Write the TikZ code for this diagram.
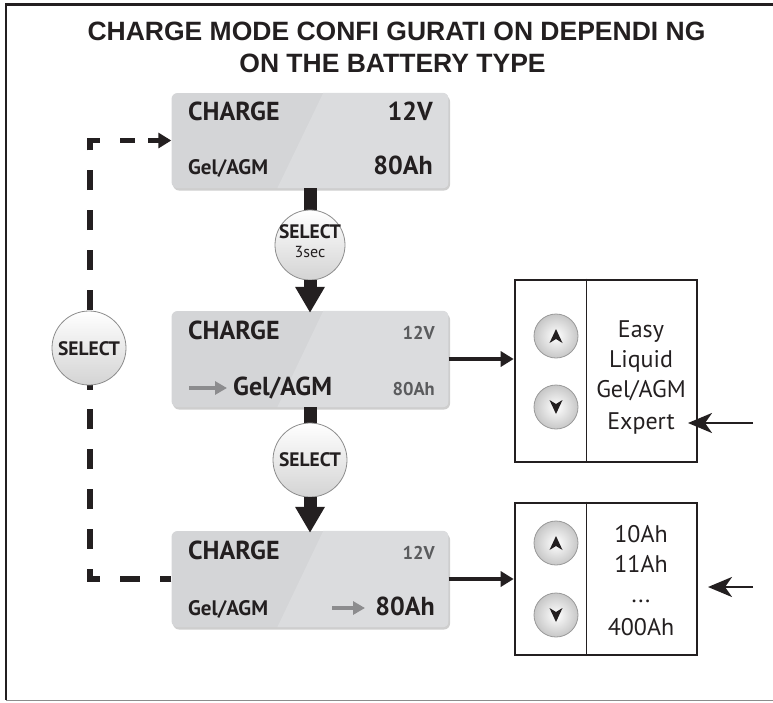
\documentclass[tikz,border=0pt]{standalone}
\usepackage{fontspec}
\setmainfont{PT Sans}
\newfontfamily\titlefont{Liberation Sans}
\usetikzlibrary{arrows.meta,shadows,calc}
\definecolor{ink}{HTML}{231F20}
\definecolor{lcd}{HTML}{D4D5D7}
\definecolor{lcdhi}{HTML}{DBDCDE}
\definecolor{dimtxt}{HTML}{5A5B5D}
\definecolor{arrgray}{HTML}{8C8C8E}
\newcommand\fs[1]{\fontsize{#1}{#1}\selectfont}
\newcommand\lcdshine[1]{%
  \begin{scope}
    \clip[rounded corners=6pt] (#1.north west) rectangle (#1.south east);
    \fill[lcdhi] ($(#1.north west)+(152,0)$) -- (#1.north east) -- (#1.south east) -- ($(#1.south west)+(106,0)$) -- cycle;
  \end{scope}}
\begin{document}
\begin{tikzpicture}[x=1pt,y=-1pt,
  lcdbox/.style={fill=lcd, rounded corners=6pt, minimum width=277pt, minimum height=95pt, inner sep=0pt,
     drop shadow={shadow xshift=1.5pt, shadow yshift=-2.5pt, opacity=0.35, fill=black!55}},
  txt/.style={inner sep=0pt, text=ink},
  bigtxt/.style={txt, font=\fs{26}\bfseries},
  midtxt/.style={txt, font=\fs{21}\bfseries},
  dimsm/.style={inner sep=0pt, text=dimtxt, font=\fs{18.5}\bfseries},
  titletxt/.style={inner sep=0pt, text=ink, font=\titlefont\fs{26.5}\bfseries},
  listtxt/.style={inner sep=0pt, text=ink, font=\fs{24}, anchor=base},
  selbtn/.style={circle, draw=black!45, line width=0.8pt, top color=white, bottom color=black!17, inner sep=0pt},
  arrbtn/.style={circle, draw=black!40, line width=0.8pt, inner color=white, outer color=black!22, minimum size=44pt, inner sep=0pt},
  seltxt/.style={inner sep=0pt, text=ink, font=\fs{19.5}\bfseries, anchor=base},
  thick bar/.style={line width=13pt, draw=ink},
  fat arrow/.style={line width=13pt, draw=ink, fill=ink, -{Triangle[length=26pt,width=28pt]}},
  side arrow/.style={line width=3.5pt, draw=ink, -{Triangle[length=13pt,width=15pt]}},
  in arrow/.style={line width=2.6pt, draw=ink, -{Stealth[length=24pt,width=20pt,inset=7pt]}},
  gray arrow/.style={line width=4pt, draw=arrgray, -{Triangle[length=12pt,width=13pt]}},
  rbox/.style={draw=ink, line width=2.6pt, minimum width=182pt, inner sep=0pt},
  loopline/.style={draw=ink, line width=5.5pt, dash pattern=on 20pt off 19.86pt, dash phase=8.22pt}
]
\useasboundingbox (0,0) rectangle (773,702);
% frame
\draw[ink, line width=2.5pt] (773,4.5) -- (6,4.5) -- (6,700);
\draw[black!45, line width=1.2pt] (6,700.5) -- (773,700.5);

% title
\node[titletxt, anchor=base] (t1) at (396.5,40) {CHARGE MODE CONFI GURATI ON DEPENDI NG};
\node[titletxt, anchor=base] (t2) at (392.5,72) {ON THE BATTERY TYPE};

% LCD boxes
\node[lcdbox] (b1) at (310,140.5) {};
\lcdshine{b1}
\node[lcdbox, minimum height=96pt] (b2) at (310,359) {};
\lcdshine{b2}
\node[lcdbox, minimum height=96pt] (b3) at (310,579) {};
\lcdshine{b3}

% box 1 texts
\node[bigtxt, anchor=base west] (b1a) at (188,120) {CHARGE};
\node[bigtxt, anchor=base east] (b1b) at (433,120) {12V};
\node[midtxt, anchor=base west] (b1c) at (188,174) {Gel/AGM};
\node[bigtxt, anchor=base east] (b1d) at (433,174) {80Ah};

% box 2 texts
\node[bigtxt, anchor=base west] (b2a) at (188,339) {CHARGE};
\node[dimsm, anchor=base east] (b2b) at (435,339) {12V};
\node[bigtxt, anchor=base west] (b2c) at (233,395) {Gel/AGM};
\node[dimsm, anchor=base east] (b2d) at (435,395) {80Ah};
\draw[gray arrow] (189,388) -- (227,388);

% box 3 texts
\node[bigtxt, anchor=base west] (b3a) at (188,559) {CHARGE};
\node[dimsm, anchor=base east] (b3b) at (435,559) {12V};
\node[midtxt, anchor=base west] (b3c) at (188,615) {Gel/AGM};
\node[bigtxt, anchor=base east] (b3d) at (435,615) {80Ah};
\draw[gray arrow] (332,608) -- (365,608);

% dashed loop
\coordinate (cBL) at (90,579);
\coordinate (cTL) at (90,140.5);
\coordinate (cTR) at (135,140.5);
\coordinate (cAr) at (148,140.5);
\draw[loopline] (b3.west) -- (cBL) -- (cTL) -- (cTR);
\draw[ink, line width=5.5pt, -{Triangle[length=13pt,width=15pt]}] (cAr) -- (b1.west);
\node[selbtn, minimum size=74pt] (sL) at (89,348) {};
\node[seltxt] (sLt) at (89,355) {SELECT};

% right boxes
\node[rbox, minimum height=182pt] (r1) at (606,371) {};
\draw[ink, line width=1.2pt] ($(r1.north west)+(73,0)$) -- ($(r1.south west)+(73,0)$);
\node[rbox, minimum height=152pt] (r2) at (606,579) {};
\draw[ink, line width=1.2pt] ($(r2.north west)+(73,0)$) -- ($(r2.south west)+(73,0)$);

\node[arrbtn] (u1) at (556,336) {};
\node[arrbtn] (d1) at (556,407) {};
\node[arrbtn] (u2) at (556,543) {};
\node[arrbtn] (d2) at (556,615) {};
\foreach \n in {u1,u2}{\fill[ink] (\n.center) ++(0,-7) -- ++(6.5,14) -- ++(-6.5,-4) -- ++(-6.5,4) -- cycle;}
\foreach \n in {d1,d2}{\fill[ink] (\n.center) ++(0,7) -- ++(6.5,-14) -- ++(-6.5,4) -- ++(-6.5,-4) -- cycle;}

\node[listtxt] (l1) at (641,337) {Easy};
\node[listtxt] (l2) at (641,367) {Liquid};
\node[listtxt] (l3) at (641,397) {Gel/AGM};
\node[listtxt] (l4) at (641,429) {Expert};
\node[listtxt] (m1) at (641,542) {10Ah};
\node[listtxt] (m2) at (641,572) {11Ah};
\node[listtxt] (m3) at (641,602) {...};
\node[listtxt] (m4) at (641,635) {400Ah};

% vertical connectors and select buttons
\coordinate (s1c) at (310,245);
\coordinate (s2c) at (310,460);
\draw[thick bar] (b1.south) -- (s1c);
\draw[thick bar] (b2.south) -- (s2c);
\node[selbtn, minimum size=70pt] (s1) at (s1c) {};
\node[seltxt] (s1t) at (310,238.5) {SELECT};
\node[inner sep=0pt, text=ink, font=\fs{16}, anchor=base] (s1u) at (310,257.5) {3sec};
\node[selbtn, minimum size=74pt] (s2) at (s2c) {};
\node[seltxt] (s2t) at (310,466.5) {SELECT};
\draw[fat arrow] (s1.south) -- ([yshift=-2pt]b2.north);
\draw[fat arrow] (s2.south) -- ([yshift=-2pt]b3.north);

\draw[side arrow] (b2.east) -- (b2.east -| r1.west);
\draw[side arrow] (b3.east) -- (b3.east -| r2.west);

\coordinate (i1s) at (753,423);
\coordinate (i1e) at (688,423);
\coordinate (i2s) at (753,587);
\coordinate (i2e) at (708,587);
\draw[in arrow] (i1s) -- (i1e);
\draw[in arrow] (i2s) -- (i2e);
\end{tikzpicture}
\end{document}
